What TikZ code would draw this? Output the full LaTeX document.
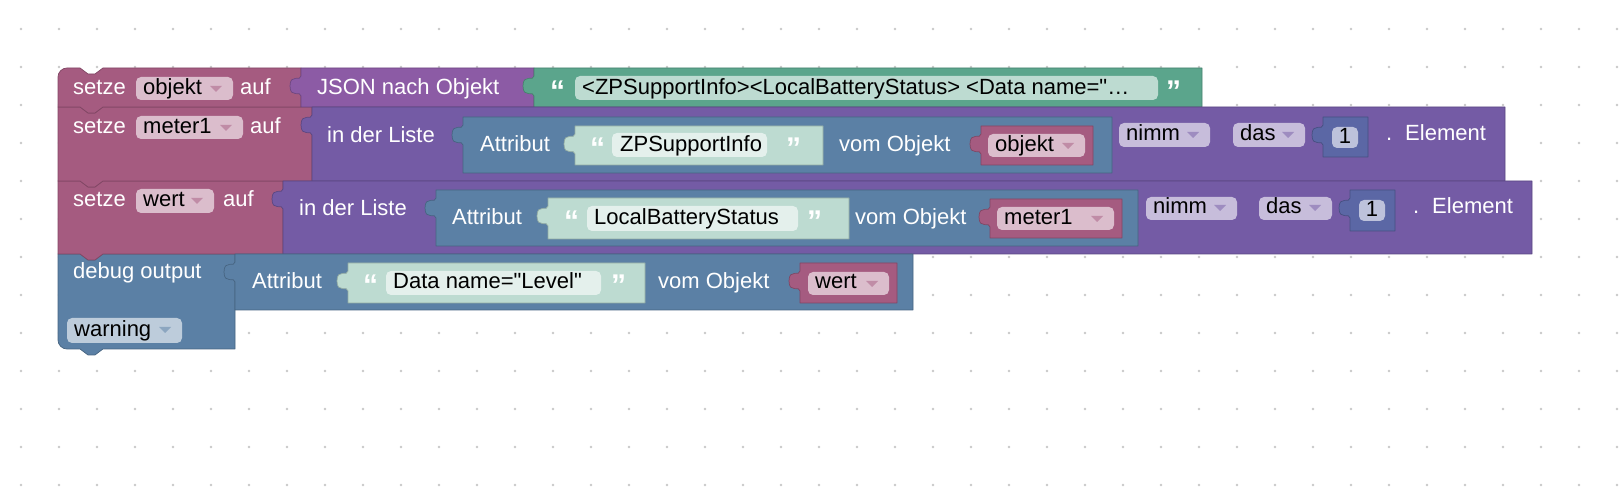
\documentclass[tikz,border=0pt]{standalone}
\usepackage{fontspec}
\setmainfont{Liberation Sans}[Ligatures=TeXOff]
\definecolor{varpink}{HTML}{A55B80}
\definecolor{jsonpurple}{HTML}{8C5BA5}
\definecolor{listpurple}{HTML}{745BA5}
\definecolor{objblue}{HTML}{5B80A5}
\definecolor{textgreen}{HTML}{5BA58C}
\definecolor{shadowgreen}{HTML}{BDDBD1}
\definecolor{mathblue}{HTML}{5B67A5}
\definecolor{dotgray}{HTML}{C8C8C8}
\tikzset{
  blk/.style={fill=#1, draw=#1!78!black, line width=0.7pt, line join=round},
  fld/.style={fill=white, fill opacity=0.6, rounded corners=5pt},
  lbl/.style={anchor=base west, inner sep=0pt, text=white, font=\fontsize{22}{26}\selectfont},
  txt/.style={lbl, text=black},
  qt/.style={lbl, font=\fontsize{30}{30}\selectfont\bfseries},
}
\newcommand\stmtblock[5]{%
  \draw[blk=#5] (#1,#2) -- (#1+22,#2) -- ++(8,6) -- ++(7,0) -- ++(8,-6)
    -- (#3,#2) -- (#3,#4) -- (#1+45,#4) -- ++(-8,6) -- ++(-7,0) -- ++(-8,-6)
    -- (#1,#4) -- cycle;}
\newcommand\valueblock[5]{%
  \draw[blk=#5] (#1,#2) -- (#3,#2) -- (#3,#4) -- (#1,#4) -- (#1,#2+28)
    .. controls (#1,#2+22) and (#1-11,#2+31) .. (#1-11,#2+18)
    .. controls (#1-11,#2+5) and (#1,#2+14) .. (#1,#2+8) -- cycle;}
\newcommand\fieldbox[4]{\fill[fld] (#1,#2) rectangle (#3,#4);}
\newcommand\dropmark[3]{\fill[#3] (#1-6,#2-3) -- (#1+6,#2-3) -- (#1,#2+3) -- cycle;}
\begin{document}
\begin{tikzpicture}[x=1pt, y=-1pt]
\useasboundingbox (0,0) rectangle (1620,502);
% workspace dots
\foreach \i in {0,...,42}
  \foreach \j in {0,...,12}
    \fill[dotgray] (21+38*\i,29+38*\j) circle (1.3pt);

% statement stack
\draw[blk=objblue] (58,254) -- (80,254) -- ++(8,6) -- ++(7,0) -- ++(8,-6) -- (235,254)
  -- (235,349) -- (103,349) -- ++(-8,6) -- ++(-7,0) -- ++(-8,-6) -- (67,349)
  arc[start angle=90, end angle=180, radius=9] -- cycle;
\stmtblock{58}{181}{283}{254}{varpink}
\stmtblock{58}{107}{312}{181}{varpink}
\draw[blk=varpink] (58,107) -- (58,77) arc[start angle=180, end angle=270, radius=9]
  -- (80,68) -- ++(8,6) -- ++(7,0) -- ++(8,-6) -- (301,68) -- (301,107)
  -- (103,107) -- ++(-8,6) -- ++(-7,0) -- ++(-8,-6) -- cycle;

% row 1
\node[lbl] (setze1) at (73,95) {setze};
\fieldbox{136}{77}{233}{100}
\node[txt] (var1) at (143,95) {objekt};
\dropmark{216}{89}{varpink!70!white}
\node[lbl] (auf1) at (240,95) {auf};
\valueblock{301}{68}{534}{107}{jsonpurple}
\node[lbl] (json) at (317,95) {JSON nach Objekt};
\valueblock{534}{68}{1202}{107}{textgreen}
\node[qt] (q1a) at (550,102) {“};
\fieldbox{575}{76}{1158}{100}
\node[txt] (xml) at (582,95) {<ZPSupportInfo><LocalBatteryStatus> <Data name="…};
\node[qt] (q1b) at (1166,102) {”};

% row 2
\node[lbl] (setze2) at (73,134) {setze};
\fieldbox{136}{116}{243}{139}
\node[txt] (var2) at (143,134) {meter1};
\dropmark{226}{128}{varpink!70!white}
\node[lbl] (auf2) at (250,134) {auf};
\valueblock{312}{107}{1505}{181}{listpurple}
\node[lbl] (liste2) at (327,143) {in der Liste};
\valueblock{463}{117}{1112}{173}{objblue}
\node[lbl] (attr2) at (480,152) {Attribut};
\valueblock{575}{126}{823}{165}{shadowgreen}
\node[qt] (q2a) at (590,159) {“};
\fieldbox{612}{133}{767}{157}
\node[txt] (key2) at (620,152) {ZPSupportInfo};
\node[qt] (q2b) at (786,159) {”};
\node[lbl] (vom2) at (839,152) {vom Objekt};
\valueblock{981}{126}{1093}{165}{varpink}
\fieldbox{988}{134}{1085}{157}
\node[txt] (obj2) at (995,152) {objekt};
\dropmark{1068}{146}{varpink!70!white}
\fieldbox{1119}{123}{1210}{147}
\node[txt] (nimm2) at (1126,141) {nimm};
\dropmark{1193}{135}{listpurple!70!white}
\fieldbox{1233}{123}{1305}{147}
\node[txt] (das2) at (1240,141) {das};
\dropmark{1288}{135}{listpurple!70!white}
\valueblock{1323}{117}{1368}{157}{mathblue}
\fieldbox{1332}{127}{1358}{148}
\node[txt, anchor=base] (num2) at (1345,144) {1};
\node[lbl] (dot2) at (1386,141) {.};
\node[lbl] (elem2) at (1405,141) {Element};

% row 3
\node[lbl] (setze3) at (73,207) {setze};
\fieldbox{136}{189}{214}{213}
\node[txt] (var3) at (143,207) {wert};
\dropmark{197}{201}{varpink!70!white}
\node[lbl] (auf3) at (223,207) {auf};
\valueblock{283}{181}{1532}{254}{listpurple}
\node[lbl] (liste3) at (299,216) {in der Liste};
\valueblock{436}{190}{1138}{246}{objblue}
\node[lbl] (attr3) at (452,225) {Attribut};
\valueblock{548}{198}{849}{239}{shadowgreen}
\node[qt] (q3a) at (564,232) {“};
\fieldbox{587}{206}{798}{231}
\node[txt] (key3) at (594,225) {LocalBatteryStatus};
\node[qt] (q3b) at (807,232) {”};
\node[lbl] (vom3) at (855,225) {vom Objekt};
\valueblock{990}{199}{1122}{238}{varpink}
\fieldbox{997}{207}{1114}{230}
\node[txt] (obj3) at (1004,225) {meter1};
\dropmark{1097}{219}{varpink!70!white}
\fieldbox{1146}{197}{1237}{220}
\node[txt] (nimm3) at (1153,214) {nimm};
\dropmark{1220}{208}{listpurple!70!white}
\fieldbox{1259}{197}{1332}{220}
\node[txt] (das3) at (1266,214) {das};
\dropmark{1315}{208}{listpurple!70!white}
\valueblock{1350}{190}{1395}{231}{mathblue}
\fieldbox{1359}{200}{1385}{221}
\node[txt, anchor=base] (num3) at (1372,217) {1};
\node[lbl] (dot3) at (1413,214) {.};
\node[lbl] (elem3) at (1432,214) {Element};

% row 4
\node[lbl] (debug) at (73,279) {debug output};
\fieldbox{67}{318}{182}{343}
\node[txt] (level) at (74,337) {warning};
\dropmark{165}{330}{objblue!70!white}
\valueblock{235}{254}{913}{310}{objblue}
\node[lbl] (attr4) at (252,289) {Attribut};
\valueblock{348}{263}{645}{303}{shadowgreen}
\node[qt] (q4a) at (363,296) {“};
\fieldbox{386}{271}{601}{295}
\node[txt] (key4) at (393,289) {Data name="Level"};
\node[qt] (q4b) at (611,296) {”};
\node[lbl] (vom4) at (658,289) {vom Objekt};
\valueblock{800}{263}{897}{303}{varpink}
\fieldbox{808}{272}{889}{295}
\node[txt] (obj4) at (815,289) {wert};
\dropmark{872}{284}{varpink!70!white}
\end{tikzpicture}
\end{document}
